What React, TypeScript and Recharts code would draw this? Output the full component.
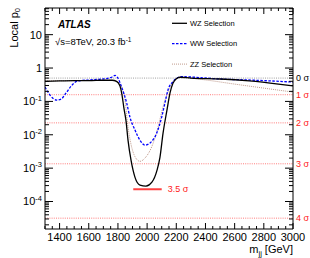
import { LineChart, Line, XAxis, YAxis, ReferenceLine } from "recharts";

// WZ selection (black solid)
const wzMass = [1300, 1400, 1500, 1600, 1700, 1760, 1790, 1814, 1828, 1841, 1855, 1869, 1890, 1917, 1951, 1992, 2033, 2068, 2088, 2109, 2136, 2157, 2177, 2200, 2225, 2300, 2500, 2700, 2900, 3000];
const wzP = [0.4, 0.41, 0.42, 0.42, 0.43, 0.43, 0.4, 0.29, 0.155, 0.063, 0.027, 0.0069, 0.0017, 5.3e-4, 3.1e-4, 2.9e-4, 3.8e-4, 8.7e-4, 2.1e-3, 0.011, 0.055, 0.18, 0.35, 0.48, 0.53, 0.5, 0.47, 0.41, 0.33, 0.29];

// WW selection (blue dashed)
const wwMass = [1300, 1334, 1380, 1410, 1445, 1480, 1525, 1600, 1700, 1760, 1780, 1800, 1825, 1860, 1882, 1917, 1951, 1985, 2020, 2065, 2100, 2122, 2143, 2177, 2212, 2225, 2500, 2800, 3000];
const wwP = [0.27, 0.155, 0.11, 0.117, 0.18, 0.29, 0.41, 0.44, 0.47, 0.54, 0.6, 0.5, 0.27, 0.089, 0.034, 0.0138, 0.0069, 0.0049, 0.0057, 0.011, 0.034, 0.089, 0.22, 0.39, 0.52, 0.55, 0.47, 0.42, 0.38];

// ZZ selection (brown dotted)
const zzMass = [1300, 1500, 1700, 1780, 1810, 1848, 1869, 1894, 1917, 1951, 1985, 2031, 2075, 2109, 2143, 2177, 2212, 2225, 2400, 2600, 2800, 3000];
const zzP = [0.41, 0.42, 0.43, 0.42, 0.35, 0.11, 0.017, 0.0043, 0.0022, 0.0016, 0.002, 0.0043, 0.017, 0.069, 0.19, 0.39, 0.5, 0.53, 0.44, 0.33, 0.25, 0.19];

const sigmaP = [0.5, 0.1587, 0.02275, 0.00135, 3.17e-5];
const sigmaLabels = ["0 σ", "1 σ", "2 σ", "3 σ", "4 σ"];
const minSigmaP = 2.33e-4;
const minSigmaRange = [1905, 2100];

const xMajorTicks = [1400, 1600, 1800, 2000, 2200, 2400, 2600, 2800, 3000];
const yMajorTicks = [1e-4, 1e-3, 1e-2, 1e-1, 1, 10];

const xDomain = [1300, 3000];
const yDomain = [1.5e-5, 63];

const toPoints = (ms: number[], ps: number[]) => ms.map((m, i) => ({ m, p: ps[i] }));

const xAllTicks: number[] = [];
for (let m = 1300; m <= 3000; m += 50) xAllTicks.push(m);

const yAllTicks: number[] = [];
for (let d = -5; d <= 1; d++) {
  for (let k = 1; k <= 9; k++) {
    const v = k * Math.pow(10, d);
    if (v >= yDomain[0] && v <= yDomain[1]) yAllTicks.push(v);
  }
}

const isMajorY = (v: number) => yMajorTicks.some((t) => Math.abs(t - v) / t < 1e-6);
const FONT = "'Liberation Sans', Arial, Helvetica, sans-serif";

const LeftTick = (props: any) => {
  const { x, y, payload } = props;
  const v = payload.value;
  const major = isMajorY(v);
  const e = Math.round(Math.log10(v));
  return (
    <g>
      <line x1={x} x2={x + (major ? 8 : 4)} y1={y} y2={y} stroke="#000" />
      {major && (
        <text x={x - 3} y={y} dy="0.35em" textAnchor="end" fontSize={11} fill="#000">
          {e === 0 ? "1" : e === 1 ? "10" : (
            <>
              10
              <tspan fontSize={7.5} dy={-4.5}>{e}</tspan>
            </>
          )}
        </text>
      )}
    </g>
  );
};

const RightTick = (props: any) => {
  const { x, y, payload } = props;
  const major = isMajorY(payload.value);
  return <line x1={x} x2={x - (major ? 8 : 4)} y1={y} y2={y} stroke="#000" />;
};

const BottomTick = (props: any) => {
  const { x, y, payload } = props;
  const v = payload.value;
  const major = v % 200 === 0;
  return (
    <g>
      <line x1={x} x2={x} y1={y} y2={y - (major ? 6 : 3)} stroke="#000" />
      {xMajorTicks.includes(v) && (
        <text x={x} y={y + 12} textAnchor="middle" fontSize={11} fill="#000">
          {v}
        </text>
      )}
    </g>
  );
};

const TopTick = (props: any) => {
  const { x, y, payload } = props;
  const major = payload.value % 200 === 0;
  return <line x1={x} x2={x} y1={y} y2={y + (major ? 6 : 3)} stroke="#000" />;
};

const legendItems = [
  { name: "WZ Selection", color: "#000", dash: undefined as string | undefined, width: 1.3 },
  { name: "WW Selection", color: "#0000ff", dash: "2.5 1.5", width: 1.3 },
  { name: "ZZ Selection", color: "#c09a8c", dash: "1 1", width: 1 },
];

export default function App() {
  return (
    <div style={{ position: "absolute", left: 0, top: 0, width: 310, height: 258, fontFamily: FONT, background: "#fff" }}>
      <LineChart width={310} height={258} margin={{ top: 0, right: 0, bottom: 0, left: 0 }}>
        <XAxis
          dataKey="m"
          type="number"
          domain={xDomain}
          allowDataOverflow
          ticks={xAllTicks}
          interval={0}
          tickSize={0}
          tickMargin={0}
          tickLine={false}
          tick={<BottomTick />}
          height={29}
          axisLine={{ stroke: "#000" }}
        />
        <XAxis
          xAxisId="top"
          orientation="top"
          dataKey="m"
          type="number"
          domain={xDomain}
          allowDataOverflow
          ticks={xAllTicks}
          interval={0}
          tickSize={0}
          tickMargin={0}
          tickLine={false}
          tick={<TopTick />}
          height={8}
          axisLine={{ stroke: "#000" }}
        />
        <YAxis
          scale="log"
          type="number"
          domain={yDomain}
          allowDataOverflow
          ticks={yAllTicks}
          interval={0}
          tickSize={0}
          tickMargin={0}
          tickLine={false}
          tick={<LeftTick />}
          width={45}
          axisLine={{ stroke: "#000" }}
        />
        <YAxis
          yAxisId="right"
          orientation="right"
          scale="log"
          type="number"
          domain={yDomain}
          allowDataOverflow
          ticks={yAllTicks}
          interval={0}
          tickSize={0}
          tickMargin={0}
          tickLine={false}
          tick={<RightTick />}
          width={17}
          axisLine={{ stroke: "#000" }}
        />
        {sigmaP.map((p, i) => (
          <ReferenceLine
            key={sigmaLabels[i]}
            y={p}
            stroke={i === 0 ? "#888" : "#ff5a5a"}
            strokeWidth={0.8}
            strokeDasharray="1 1.2"
            label={{ value: sigmaLabels[i], position: "right", offset: 3, fill: i === 0 ? "#000" : "#ff2020", fontSize: 9 }}
          />
        ))}
        <ReferenceLine
          segment={[
            { x: minSigmaRange[0], y: minSigmaP },
            { x: minSigmaRange[1], y: minSigmaP },
          ]}
          stroke="#ff4040"
          strokeWidth={2}
          label={{ value: "3.5 σ", position: "right", offset: 6, fill: "#ff2020", fontSize: 9 }}
        />
        <Line data={toPoints(zzMass, zzP)} dataKey="p" type="monotone" stroke="#c09a8c" strokeWidth={1} strokeDasharray="1 1" dot={false} isAnimationActive={false} />
        <Line data={toPoints(wwMass, wwP)} dataKey="p" type="monotone" stroke="#0000ff" strokeWidth={1.3} strokeDasharray="2.5 1.5" dot={false} isAnimationActive={false} />
        <Line data={toPoints(wzMass, wzP)} dataKey="p" type="monotone" stroke="#000" strokeWidth={1.3} dot={false} isAnimationActive={false} />
      </LineChart>
      <svg width={310} height={258} style={{ position: "absolute", left: 0, top: 0, pointerEvents: "none" }}>
        <text x={58} y={27.5} fontSize={10} fontWeight="bold" fontStyle="italic">ATLAS</text>
        <text x={55} y={45} fontSize={9.5}>
          √s=8TeV, 20.3 fb<tspan fontSize={6.5} dy={-3.5}>-1</tspan>
        </text>
        {legendItems.map((it, i) => (
          <g key={it.name}>
            <line x1={172} x2={187} y1={23.3 + i * 20.4} y2={23.3 + i * 20.4} stroke={it.color} strokeWidth={it.width} strokeDasharray={it.dash} />
            <text x={190} y={23.3 + i * 20.4} dy="0.35em" fontSize={7.5}>{it.name}</text>
          </g>
        ))}
        <text transform="translate(17.5,8) rotate(-90)" textAnchor="end" fontSize={11}>
          Local p<tspan fontSize={7.5} dy={2.5}>0</tspan>
        </text>
        <text x={293} y={253} textAnchor="end" fontSize={11}>
          m<tspan fontSize={7.5} dy={2.5}>jj</tspan>
          <tspan dy={-2.5}> [GeV]</tspan>
        </text>
      </svg>
    </div>
  );
}
